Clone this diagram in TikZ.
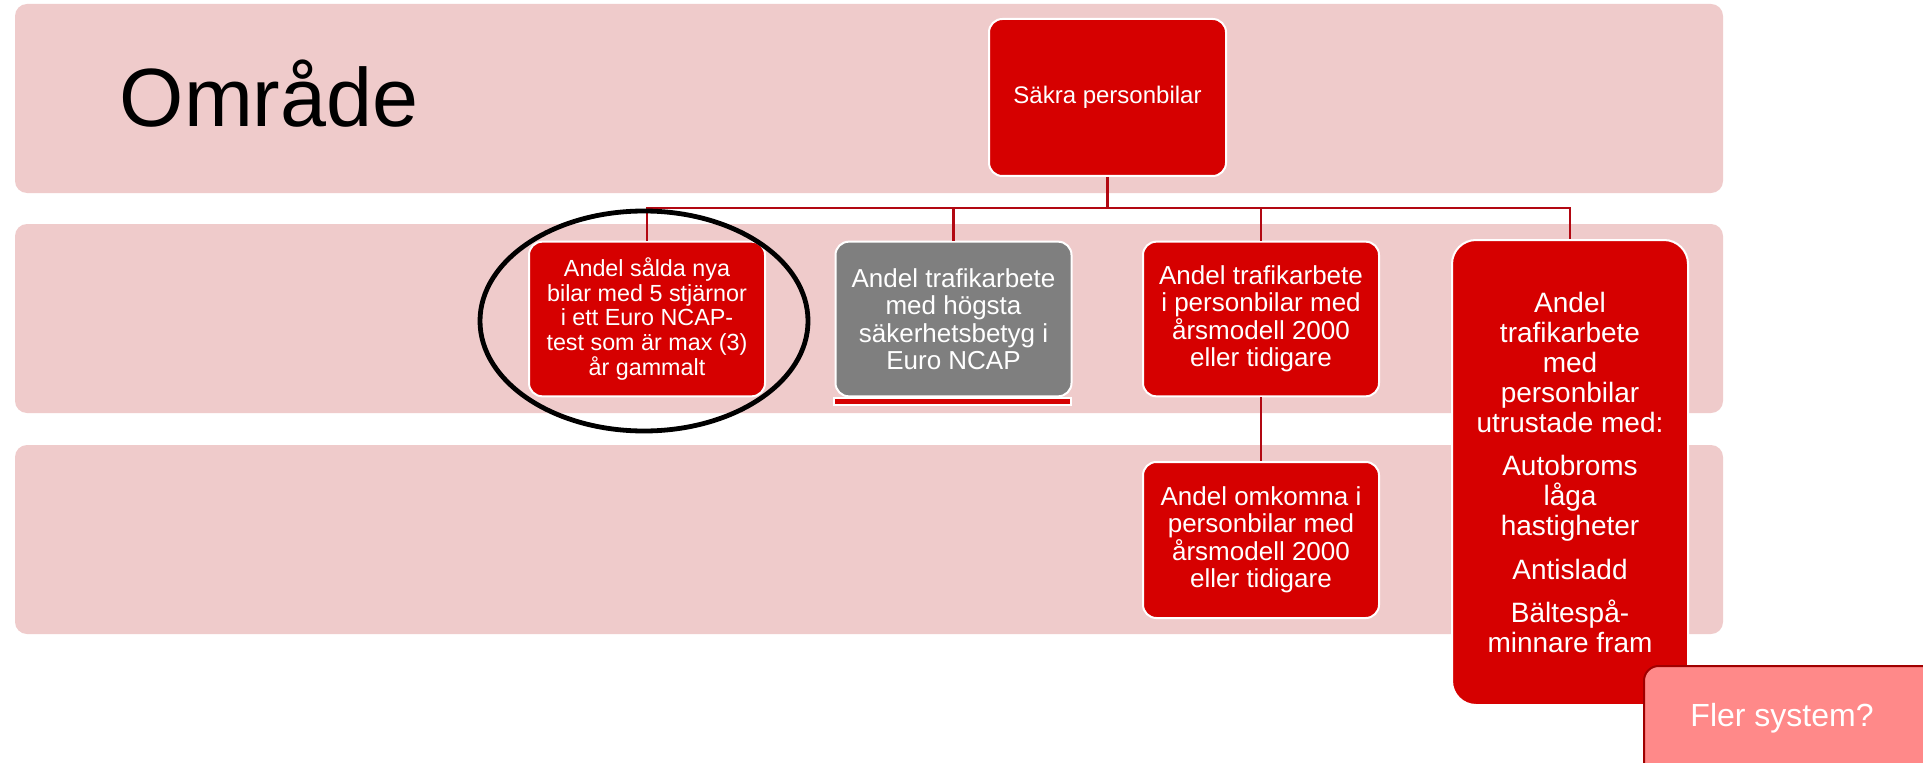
\documentclass[tikz,border=0pt]{standalone}
\usepackage{fontspec}
\setmainfont{Liberation Sans}
\usepackage{xcolor}
\definecolor{bandpink}{RGB}{239,203,203}
\definecolor{boxred}{RGB}{214,0,0}
\definecolor{linkred}{RGB}{178,8,18}
\definecolor{boxgray}{RGB}{127,127,127}
\definecolor{flerpink}{RGB}{255,137,137}
\definecolor{flerline}{RGB}{160,0,0}

\begin{document}
\begin{tikzpicture}[x=0.75pt,y=0.75pt,yscale=-1,xscale=1,
  band/.style={fill=bandpink, rounded corners=9pt},
  redbox/.style={draw=white, line width=1.5pt, fill=boxred, rounded corners=10pt, text=white,
    align=center, inner sep=0pt, minimum width=177pt, minimum height=116pt},
  graybox/.style={redbox, fill=boxgray},
  link/.style={draw=linkred, line width=2pt},
  ring/.style={draw=black, line width=3.6pt},
  midfont/.style={font=\fontsize{19.5}{20.6}\selectfont}]
\useasboundingbox (0,0) rectangle (1923,763);
\clip (0,0) rectangle (1923,763);

%Bands
\fill [band] (15,4) rectangle (1723,193) ;
\fill [band] (15,224) rectangle (1723,413) ;
\fill [band] (15,445) rectangle (1723,634) ;

% Text Node
\node [anchor=base west, font=\fontsize{62}{68}\selectfont] (title) at (115,127) {Område};

%Boxes
\node [redbox, minimum width=177.75pt, minimum height=117.75pt, font=\fontsize{18}{21}\selectfont] (top) at (1107.5,97.5) {Säkra personbilar};
\node [redbox, font=\fontsize{17.5}{18.5}\selectfont] (c1) at (647,319) {Andel sålda nya\\bilar med 5 stjärnor\\i ett Euro NCAP-\\test som är max (3)\\år gammalt};
\node [graybox, midfont] (c2) at (953.5,319) {Andel trafikarbete\\med högsta\\säkerhetsbetyg i\\Euro NCAP};
\node [redbox, midfont] (c3) at (1261,319) {Andel trafikarbete\\i personbilar med\\årsmodell 2000\\eller tidigare};
\node [redbox, midfont, minimum height=117pt] (c3b) at (1261,540) {Andel omkomna i\\personbilar med\\årsmodell 2000\\eller tidigare};
\node [redbox, rounded corners=18pt, minimum height=348.75pt, font=\fontsize{21}{22.5}\selectfont] (c4) at (1570,472.5) {Andel\\trafikarbete\\med\\personbilar\\utrustade med:\\[10pt]Autobroms\\låga\\hastigheter\\[10pt]Antisladd\\[10pt]Bältespå-\\minnare fram};

%Red bar under gray box
\draw [draw=white, line width=1pt, fill=boxred] (834,398) rectangle (1071,405) ;

%Connectors
\coordinate (bus) at (0,208);
\draw [link] (top.south) -- (top.south |- bus) ;
\draw [link] (c1.north) |- (c4.north |- bus) -- (c4.north) ;
\draw [link] (c2.north) -- (c2.north |- bus) ;
\draw [link] (c3.north) -- (c3.north |- bus) ;
\draw [link] (c3.south) -- (c3b.north) ;

%Shape: Ellipse
\draw [ring] (644,321) ellipse [x radius=164, y radius=110] ;

%Fler system
\draw [draw=flerline, line width=1.5pt, fill=flerpink, rounded corners=11pt] (1644,666) rectangle (1990,820) ;
\node [text=white, font=\fontsize{24}{28}\selectfont] (fler) at (1782,718) {Fler system?};

\end{tikzpicture}
\end{document}
